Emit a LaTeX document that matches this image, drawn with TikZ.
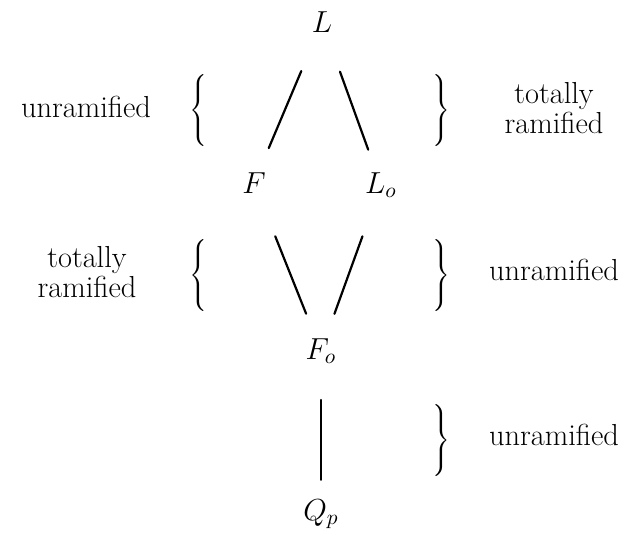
\documentclass[tikz,border=0pt]{standalone}
\usepackage{fix-cm}
\usetikzlibrary{calc}
\tikzset{lbl/.style={align=center, inner sep=0pt}, brk/.style={inner sep=0pt}}
\newcommand{\lbrc}{$\left\{\vcenter{\hbox{\rule{0pt}{38pt}}}\right.$}
\newcommand{\rbrc}{$\left.\vcenter{\hbox{\rule{0pt}{38pt}}}\right\}$}
\begin{document}
\begin{tikzpicture}[x=0.5pt, y=-0.5pt, line width=1.1pt, line cap=round, font=\fontsize{15.2}{13.7}\selectfont]
	\useasboundingbox (0,0) rectangle (631,537);
	% fields
	\node (L) at (322,22) {$L$};
	\node (F) at (254,183) {$F$};
	\node (Lo) at (381,185) {$L_o$};
	\node (Fo) at (321,351) {$F_o$};
	\node (Qp) at (321,514) {$Q_p$};
	% braces
	\node[brk] (lb1) at (200,110) {\lbrc};
	\node[brk] (rb1) at (440,110) {\rbrc};
	\node[brk] (lb2) at (200,275) {\lbrc};
	\node[brk] (rb2) at (440,275) {\rbrc};
	\node[brk] (rb3) at (440,440) {\rbrc};
	% labels
	\node[lbl,anchor=base] (u1) at (86,117) {unramified};
	\node[lbl] (t1) at (554,108) {totally\\ramified};
	\node[lbl] (t2) at (87,272) {totally\\ramified};
	\node[lbl,anchor=base] (u2) at (554,280) {unramified};
	\node[lbl,anchor=base] (u3) at (554,445) {unramified};
	% lines
	\draw ($(L)!0.305!(F)$) -- ($(L)!0.783!(F)$);
	\draw ($(L)!0.305!(Lo)$) -- ($(L)!0.783!(Lo)$);
	\draw ($(F)!0.317!(Fo)$) -- ($(F)!0.778!(Fo)$);
	\draw ($(Lo)!0.309!(Fo)$) -- ($(Lo)!0.776!(Fo)$);
	\draw ($(Fo)!0.30!(Qp)$) -- ($(Fo)!0.79!(Qp)$);
\end{tikzpicture}
\end{document}
